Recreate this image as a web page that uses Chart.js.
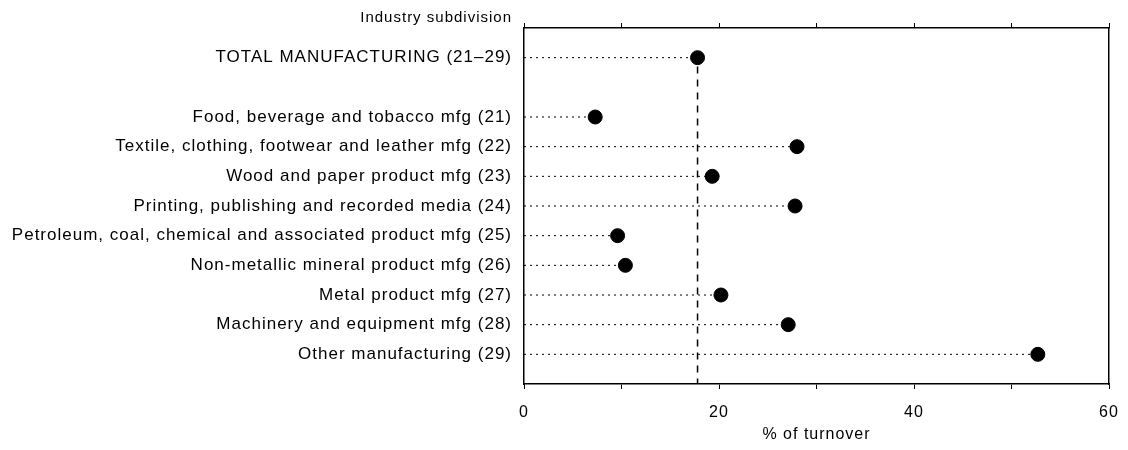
<!DOCTYPE html>
<html>
<head>
<meta charset="utf-8">
<script src="https://cdn.jsdelivr.net/npm/chart.js@4"></script>
<style>
  body { margin: 0; background: #fff; }
  canvas { display: block; }
</style>
</head>
<body>
<canvas id="chart" width="1128" height="450"></canvas>
<script>
// rows top to bottom, blank row separates the total from the subdivisions
const categories = [
  'TOTAL MANUFACTURING (21–29)',
  '',
  'Food, beverage and tobacco mfg (21)',
  'Textile, clothing, footwear and leather mfg (22)',
  'Wood and paper product mfg (23)',
  'Printing, publishing and recorded media (24)',
  'Petroleum, coal, chemical and associated product mfg (25)',
  'Non-metallic mineral product mfg (26)',
  'Metal product mfg (27)',
  'Machinery and equipment mfg (28)',
  'Other manufacturing (29)'
];
const values = [17.8, null, 7.3, 28.0, 19.3, 27.8, 9.6, 10.4, 20.2, 27.1, 52.7];
const xLabels = [0, 20, 40, 60];

const font = '"Liberation Sans", Arial, Helvetica, sans-serif';

// dotted leader lines from 0 to each value
const leaders = [];
values.forEach((v, i) => {
  if (v === null) return;
  leaders.push({
    data: [{ x: 0, y: i }, { x: v, y: i }],
    showLine: true,
    borderColor: '#000',
    borderWidth: 1,
    borderDash: [2, 4],
    pointRadius: 0
  });
});

const refLine = {
  data: [{ x: values[0], y: 0.3 }, { x: values[0], y: categories.length }],
  showLine: true,
  borderColor: '#000',
  borderWidth: 1.5,
  borderDash: [7, 6],
  pointRadius: 0
};

const dots = {
  data: values.map((v, i) => v === null ? null : { x: v, y: i }).filter(d => d),
  pointRadius: 7,
  pointBackgroundColor: '#000',
  pointBorderColor: '#000',
  showLine: false
};

// the scanned type is loosely spaced
const spacing = {
  id: 'spacing',
  beforeDraw(chart) { chart.ctx.letterSpacing = '1px'; }
};

const headerLabel = {
  id: 'headerLabel',
  afterDraw(chart) {
    const ctx = chart.ctx;
    ctx.save();
    ctx.letterSpacing = '1px';
    ctx.font = '15px ' + font;
    ctx.fillStyle = '#000';
    ctx.textAlign = 'right';
    ctx.textBaseline = 'middle';
    ctx.fillText('Industry subdivision', chart.chartArea.left - 12, 18);
    ctx.restore();
  }
};

new Chart(document.getElementById('chart'), {
  type: 'scatter',
  data: { datasets: [...leaders, refLine, dots] },
  plugins: [spacing, headerLabel],
  options: {
    responsive: false,
    animation: false,
    layout: { padding: 0 },
    plugins: { legend: { display: false }, tooltip: { enabled: false } },
    scales: {
      x: {
        type: 'linear',
        position: 'bottom',
        min: 0,
        max: 60,
        ticks: {
          stepSize: 10,
          color: '#000',
          padding: 14,
          font: { family: font, size: 16 },
          callback: v => xLabels.includes(v) ? v : ''
        },
        grid: { drawOnChartArea: false, tickLength: 5, tickColor: '#000' },
        border: { color: '#000', width: 1.5 },
        title: {
          display: true,
          text: '% of turnover',
          color: '#000',
          font: { family: font, size: 16 },
          padding: { top: 0, bottom: 6 }
        },
        afterFit: s => { s.height = 66; s.paddingLeft = 0; s.paddingRight = 0; }
      },
      x2: {
        type: 'linear',
        position: 'top',
        min: 0,
        max: 60,
        ticks: { stepSize: 10, display: false },
        grid: { drawOnChartArea: false, tickLength: 5, tickColor: '#000' },
        border: { color: '#000', width: 1.5 },
        afterFit: s => { s.height = 28; s.paddingLeft = 0; s.paddingRight = 0; }
      },
      y: {
        type: 'linear',
        reverse: true,
        min: -1,
        max: categories.length,
        ticks: {
          stepSize: 1,
          color: '#000',
          padding: 12,
          font: { family: font, size: 17 },
          callback: v => categories[v] || ''
        },
        grid: { display: false, drawTicks: false },
        border: { color: '#000', width: 1.5 },
        afterFit: s => { s.width = 524; }
      },
      y2: {
        type: 'linear',
        position: 'right',
        min: -1,
        max: categories.length,
        ticks: { display: false },
        grid: { display: false, drawTicks: false },
        border: { color: '#000', width: 1.5 },
        afterFit: s => { s.width = 19; }
      }
    }
  }
});
</script>
</body>
</html>
